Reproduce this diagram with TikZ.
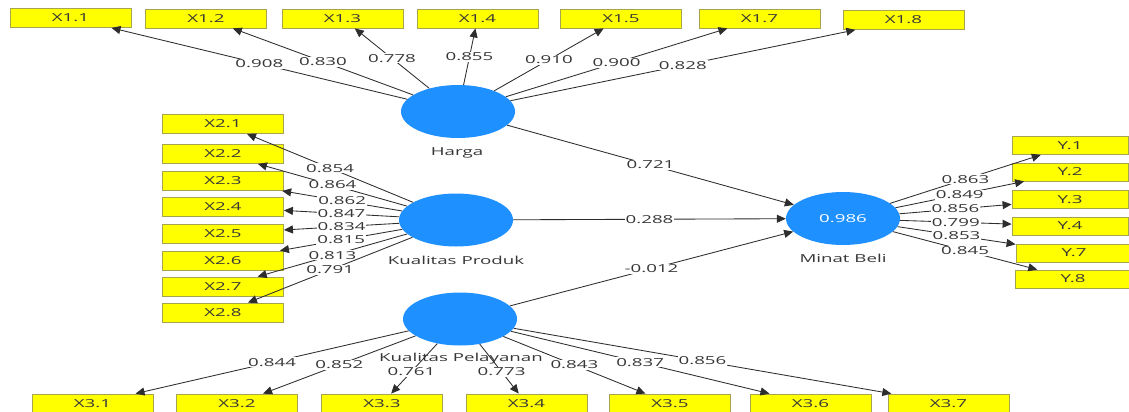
\documentclass[tikz,border=0pt]{standalone}
\usepackage{fontspec}
\setmainfont[FakeStretch=1.7]{Open Sans}
\usetikzlibrary{shapes.geometric,arrows.meta}
\definecolor{lv}{RGB}{30,144,255}
\definecolor{ind}{RGB}{255,255,0}
\definecolor{indb}{RGB}{165,165,80}
\definecolor{ln}{RGB}{45,45,45}
\definecolor{tx}{RGB}{55,55,55}
\begin{document}
\begin{tikzpicture}[x=1pt,y=-1pt,
 lvar/.style={ellipse, fill=lv, minimum width=114pt, minimum height=53pt, inner sep=0pt, text=white, font=\fontsize{11}{13}\selectfont},
 indbox/.style={rectangle, fill=ind, draw=indb, line width=0.8pt, minimum width=121pt, minimum height=19pt, inner sep=0pt, font=\fontsize{11}{13}\selectfont, text=tx},
 ybox/.style={indbox, minimum width=116pt, minimum height=18pt},
 conn/.style={draw=ln, line width=0.85pt, -{Triangle[length=9pt,width=8pt]}},
 lbl/.style={fill=white, inner sep=1pt, font=\fontsize{11}{13}\selectfont, text=tx},
 lvname/.style={font=\fontsize{11}{13}\selectfont, text=tx, inner sep=0pt}]
\fill[white] (0,0) rectangle (1129,412);
\useasboundingbox (0,0) rectangle (1129,412);

% latent variables
\node[lvar] (H) at (458,111.5) {};
\node[lvar] (KP) at (456,220) {};
\node[lvar] (PL) at (460,319) {};
\node[lvar] (MB) at (843,218.5) {0.986};

\node[lvname] (Hn) at (457,153) {Harga};
\node[lvname] (KPn) at (456,260) {Kualitas Produk};
\node[lvname] (MBn) at (843,258) {Minat Beli};

% indicator boxes X1
\node[indbox] (X11) at (70.5,18) {X1.1};
\node[indbox] (X12) at (206,18.5) {X1.2};
\node[indbox] (X13) at (342.5,18.5) {X1.3};
\node[indbox] (X14) at (477.5,18.5) {X1.4};
\node[indbox] (X15) at (621,18.5) {X1.5};
\node[indbox] (X17) at (759.5,18.5) {X1.7};
\node[indbox] (X18) at (903.5,20) {X1.8};

% X2
\node[indbox] (X21) at (223,124) {X2.1};
\node[indbox] (X22) at (223,154) {X2.2};
\node[indbox] (X23) at (223,181) {X2.3};
\node[indbox] (X24) at (223,207) {X2.4};
\node[indbox] (X25) at (223,233.5) {X2.5};
\node[indbox] (X26) at (223,260.5) {X2.6};
\node[indbox] (X27) at (223,286.5) {X2.7};
\node[indbox] (X28) at (223,312.5) {X2.8};

% X3
\node[indbox] (X31) at (92.5,403.5) {X3.1};
\node[indbox] (X32) at (237,403.5) {X3.2};
\node[indbox] (X33) at (382,403.5) {X3.3};
\node[indbox] (X34) at (526.5,403.5) {X3.4};
\node[indbox] (X35) at (670,403.5) {X3.5};
\node[indbox] (X36) at (810.5,403.5) {X3.6};
\node[indbox] (X37) at (948.5,403.5) {X3.7};

% Y
\node[ybox] (Y1) at (1070,145.5) {Y.1};
\node[ybox] (Y2) at (1070,172) {Y.2};
\node[ybox] (Y3) at (1070,199.5) {Y.3};
\node[ybox] (Y4) at (1070,226) {Y.4};
\node[ybox] (Y7) at (1074,253) {Y.7};
\node[ybox] (Y8) at (1073,279) {Y.8};

% Harga loadings
\draw[conn] (H) -- (X11) node[lbl,midway] {0.908};
\draw[conn] (H) -- (X12) node[lbl,midway] {0.830};
\draw[conn] (H) -- (X13) node[lbl,midway] {0.778};
\draw[conn] (H) -- (X14) node[lbl,midway] {0.855};
\draw[conn] (H) -- (X15) node[lbl,midway] {0.910};
\draw[conn] (H) -- (X17) node[lbl,midway] {0.900};
\draw[conn] (H) -- (X18) node[lbl,midway] {0.828};

% Kualitas Produk loadings
\draw[conn] (KP) -- (X21) node[lbl,midway] {0.854};
\draw[conn] (KP) -- (X22) node[lbl,midway] {0.864};
\draw[conn] (KP) -- (X23) node[lbl,midway] {0.862};
\draw[conn] (KP) -- (X24) node[lbl,midway] {0.847};
\draw[conn] (KP) -- (X25) node[lbl,midway] {0.834};
\draw[conn] (KP) -- (X26) node[lbl,midway] {0.815};
\draw[conn] (KP) -- (X27) node[lbl,midway] {0.813};
\draw[conn] (KP) -- (X28) node[lbl,midway] {0.791};

% Kualitas Pelayanan loadings
\draw[conn] (PL) -- (X31) node[lbl,midway] {0.844};
\draw[conn] (PL) -- (X32) node[lbl,midway] {0.852};
\draw[conn] (PL) -- (X33) node[lbl,pos=0.56] {0.761};
\draw[conn] (PL) -- (X34) node[lbl,pos=0.56] {0.773};
\draw[conn] (PL) -- (X35) node[lbl,midway] {0.843};
\draw[conn] (PL) -- (X36) node[lbl,midway] {0.837};
\draw[conn] (PL) -- (X37) node[lbl,midway] {0.856};

% Minat Beli loadings
\draw[conn] (MB) -- (Y1) node[lbl,midway] {0.863};
\draw[conn] (MB) -- (Y2) node[lbl,midway] {0.849};
\draw[conn] (MB) -- (Y3) node[lbl,midway] {0.856};
\draw[conn] (MB) -- (Y4) node[lbl,midway] {0.799};
\draw[conn] (MB) -- (Y7) node[lbl,midway] {0.853};
\draw[conn] (MB) -- (Y8) node[lbl,midway] {0.845};

% structural paths
\draw[conn] (H) -- (MB) node[lbl,midway] {0.721};
\draw[conn] (KP) -- (MB) node[lbl,midway] {0.288};
\draw[conn] (PL) -- (MB) node[lbl,midway] {-0.012};

\node[lvname] (PLn) at (461,359) {Kualitas Pelayanan};
\end{tikzpicture}
\end{document}
